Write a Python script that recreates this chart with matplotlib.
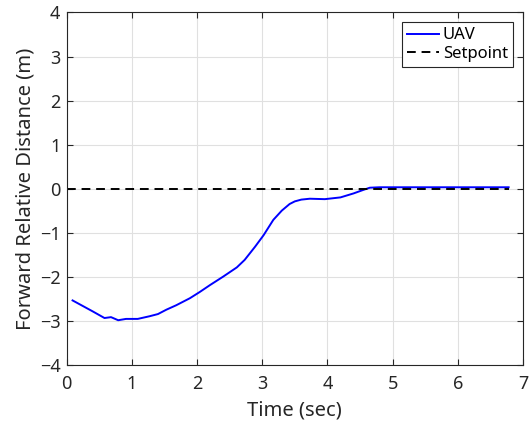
import numpy as np
import matplotlib.pyplot as plt

# UAV forward relative distance
time_s = [0.09, 0.40, 0.58, 0.68, 0.79, 0.91, 1.09, 1.27, 1.40, 1.53, 1.68,
          1.89, 2.04, 2.20, 2.40, 2.61, 2.73, 2.89, 3.02, 3.17, 3.30, 3.42,
          3.50, 3.60, 3.73, 3.96, 4.20, 4.40, 4.55, 4.65, 4.80, 5.50, 6.20, 6.78]
distance_m = [-2.54, -2.79, -2.94, -2.92, -2.99, -2.96, -2.96, -2.90, -2.85,
              -2.75, -2.65, -2.49, -2.35, -2.19, -2.00, -1.79, -1.62, -1.32,
              -1.06, -0.71, -0.50, -0.35, -0.29, -0.25, -0.23, -0.24, -0.20,
              -0.11, -0.03, 0.02, 0.03, 0.03, 0.03, 0.03]
setpoint_t = [0.0, 6.78]
setpoint_m = [0.0, 0.0]

plt.rcParams["font.family"] = ["Noto Sans", "DejaVu Sans"]
axis_col = "#262626"

fig = plt.figure(figsize=(5.31, 4.22), dpi=100)
ax = fig.add_axes([0.1256, 0.1358, 0.8593, 0.8346])

ax.plot(time_s, distance_m, color="#0000ff", linewidth=1.4, label="UAV")
ax.plot(setpoint_t, setpoint_m, color="black", linewidth=1.4,
        linestyle=(0, (4.5, 3)), label="Setpoint")

ax.set_xlim(0, 7)
ax.set_ylim(-4, 4)
ax.set_xticks(np.arange(0, 8, 1))
ax.set_yticks(np.arange(-4, 5, 1))
ax.grid(True, color="#e0e0e0", linewidth=0.8)
ax.set_axisbelow(True)

ax.tick_params(direction="in", top=True, right=True, length=4,
               width=0.8, color=axis_col, labelcolor=axis_col, labelsize=13)
ax.tick_params(axis="x", pad=7.5)
ax.tick_params(axis="y", pad=4.5)
for spine in ax.spines.values():
    spine.set_color(axis_col)
    spine.set_linewidth(0.8)

ax.set_xlabel("Time (sec)", fontsize=14.5, color=axis_col, labelpad=5)
ax.set_ylabel("Forward Relative Distance (m)", fontsize=14.5, color=axis_col,
              labelpad=3)

leg = ax.legend(loc="upper right", fontsize=12, fancybox=False,
                framealpha=1, edgecolor=axis_col, borderpad=0.3,
                handlelength=1.9, handletextpad=0.25, labelspacing=0.15,
                borderaxespad=0.6)
leg.get_frame().set_linewidth(0.8)

fig.savefig("out.png", dpi=100, facecolor="white")
